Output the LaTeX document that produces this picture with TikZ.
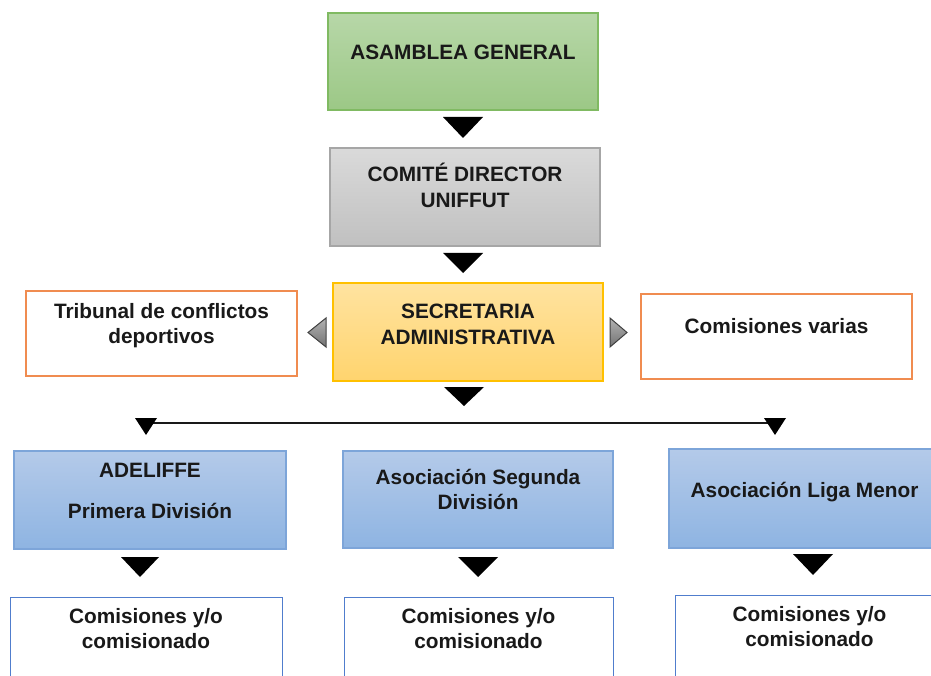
\documentclass[tikz,border=0pt]{standalone}
\usepackage{fontspec}
\setmainfont{Liberation Sans}
\usetikzlibrary{positioning}
\definecolor{gtop}{RGB}{183,215,168}
\definecolor{gbot}{RGB}{156,200,134}
\definecolor{gline}{RGB}{128,186,98}
\definecolor{ktop}{RGB}{218,218,218}
\definecolor{kbot}{RGB}{192,192,192}
\definecolor{kline}{RGB}{166,166,166}
\definecolor{ytop}{RGB}{255,227,160}
\definecolor{ybot}{RGB}{255,212,110}
\definecolor{yline}{RGB}{255,192,0}
\definecolor{oline}{RGB}{240,140,80}
\definecolor{btop}{RGB}{180,202,233}
\definecolor{bbot}{RGB}{142,180,226}
\definecolor{bline}{RGB}{125,165,217}
\definecolor{wline}{RGB}{80,125,205}
\definecolor{txtc}{RGB}{25,25,25}
\newcommand\ftop{\rule{0pt}{20pt}}
\newcommand\downtri[4]{\fill[tri] (#1-#3/2,#2) -- (#1+#3/2,#2) -- (#1,#2+#4) -- cycle;}
\begin{document}
\begin{tikzpicture}[x=1pt,y=-1pt,
  every node/.style={outer sep=0pt, inner sep=0pt},
  boxb/.style={draw, line width=1.2pt, anchor=north west},
  gbox/.style={boxb, draw=gline, top color=gtop, bottom color=gbot},
  kbox/.style={boxb, draw=kline, top color=ktop, bottom color=kbot},
  ybox/.style={boxb, draw=yline, top color=ytop, bottom color=ybot},
  obox/.style={boxb, draw=oline, fill=white},
  bbox/.style={boxb, draw=bline, top color=btop, bottom color=bbot},
  wbox/.style={boxb, draw=wline, line width=1pt, fill=white},
  txt/.style={font=\fontsize{20.8}{25}\selectfont\bfseries, align=center, anchor=north, text=txtc},
  tri/.style={black},
  sidetri/.style={draw=black!75, line width=1pt, top color=black!30, bottom color=black!55},
  hline/.style={line width=1.6pt, black!90}]
\useasboundingbox (0,0) rectangle (931,676);
% boxes
\node[gbox, minimum width=270, minimum height=97] (asm) at (328,13) {};
\node[kbox, minimum width=270, minimum height=98] (com) at (330,148) {};
\node[ybox, minimum width=270, minimum height=98] (sec) at (333,283) {};
\node[obox, minimum width=271, minimum height=85] (trib) at (26,291) {};
\node[obox, minimum width=271, minimum height=85] (cvar) at (641,294) {};
\node[bbox, minimum width=272, minimum height=98] (ade) at (14,451) {};
\node[bbox, minimum width=270, minimum height=97] (seg) at (343,451) {};
\node[bbox, minimum width=300, minimum height=99] (liga) at (669,449) {};
\node[wbox, minimum width=272, minimum height=100] (cm1) at (10,597) {};
\node[wbox, minimum width=269, minimum height=100] (cm2) at (344,597) {};
\node[wbox, minimum width=300, minimum height=100] (cm3) at (675,595) {};
% texts
\node[txt, below=27pt of asm.north] (asmT) {\ftop ASAMBLEA GENERAL};
\node[txt, below=14pt of com.north] (comT) {\ftop COMITÉ DIRECTOR\\[1pt]UNIFFUT};
\node[txt, below=15.5pt of sec.north] (secT) {\ftop SECRETARIA\\[1pt]ADMINISTRATIVA};
\node[txt, below=7pt of trib.north] (tribT) {\ftop Tribunal de conflictos\\deportivos};
\node[txt, below=19pt of cvar.north] (cvarT) {\ftop Comisiones varias};
\node[txt, below=6pt of ade.north] (adeT) {\ftop ADELIFFE\\[16pt]Primera División};
\node[txt, below=13pt of seg.north] (segT) {\ftop Asociación Segunda\\División};
\node[txt] (ligaT) at (804.5,477) {\ftop Asociación Liga Menor};
\node[txt, below=6pt of cm1.north] (cm1T) {\ftop Comisiones y/o\\comisionado};
\node[txt, below=6pt of cm2.north] (cm2T) {\ftop Comisiones y/o\\comisionado};
\node[txt] (cm3T) at (809.5,601) {\ftop Comisiones y/o\\comisionado};
% down triangles between levels
\downtri{463}{117}{40}{21}
\downtri{463}{253}{40}{20}
\downtri{464}{387}{40}{19}
\downtri{140}{557}{38}{20}
\downtri{478}{557}{40}{20}
\downtri{813}{554}{40}{21}
% side triangles
\draw[sidetri] (326,318) -- (326,347) -- (308,332.5) -- cycle;
\draw[sidetri] (610,318) -- (610,347) -- (627,332.5) -- cycle;
% distribution line
\coordinate (lend) at (146,423);
\coordinate (rend) at (775,423);
\draw[hline] (lend) -- (rend);
\downtri{146}{418}{22}{17}
\downtri{775}{418}{22}{17}
\end{tikzpicture}
\end{document}
